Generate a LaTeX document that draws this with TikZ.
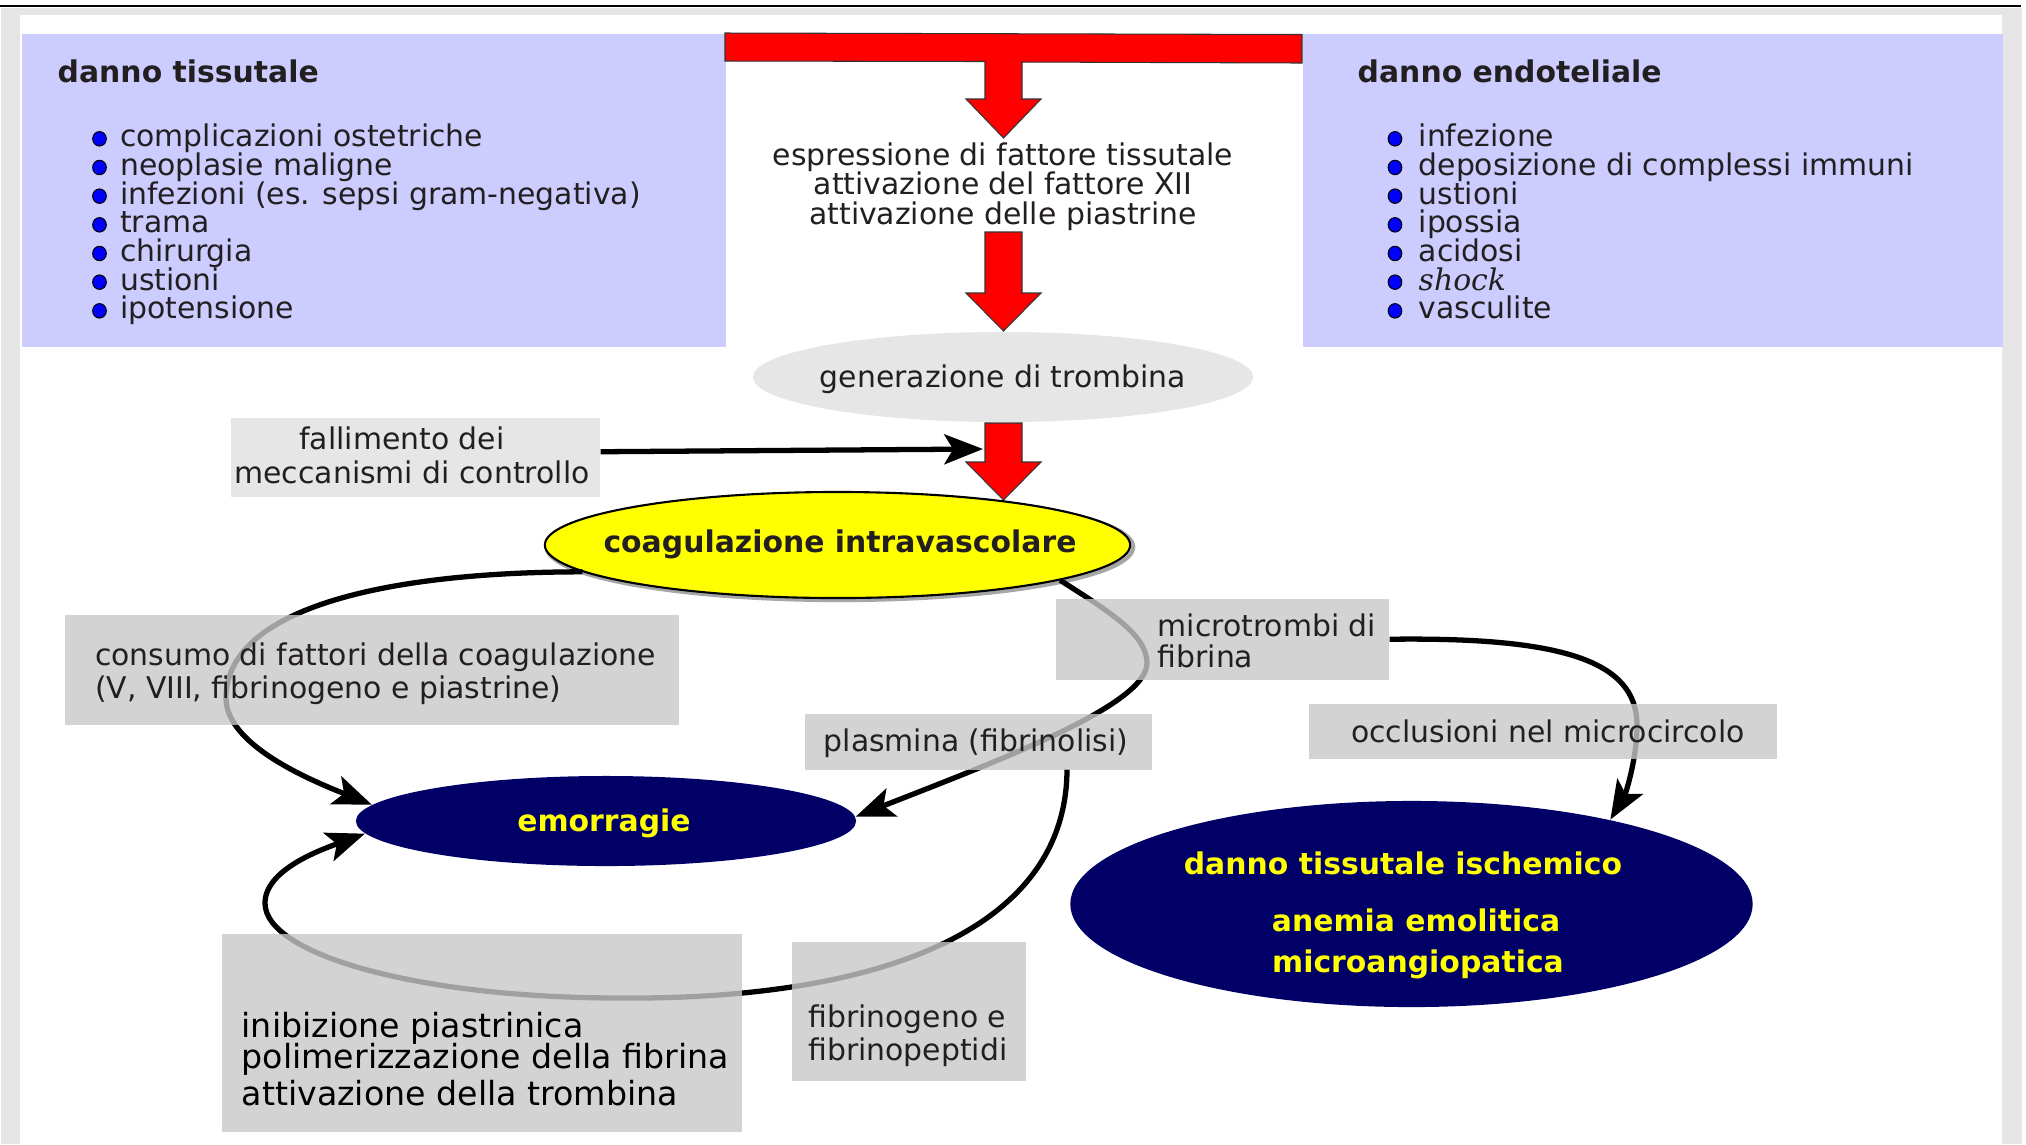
\documentclass[tikz,border=0pt]{standalone}
\usepackage{fontspec}
\setmainfont{DejaVu Sans}
\newfontfamily\serifit{DejaVu Serif}
\usetikzlibrary{shapes.geometric,arrows.meta}
\definecolor{lav}{RGB}{204,204,255}
\definecolor{lgray}{RGB}{230,230,230}
\definecolor{bgray}{RGB}{201,201,201}
\definecolor{navyb}{RGB}{0,0,102}
\definecolor{txtc}{RGB}{35,31,32}
\definecolor{framec}{RGB}{229,229,229}
\definecolor{yel}{RGB}{255,255,0}
\pgfdeclarelayer{fg}
\pgfsetlayers{main,fg}
\begin{document}
\begin{tikzpicture}[x=0.01cm,y=-0.01cm,
  txt/.style={inner sep=0pt, text=txtc, font=\fontsize{8.49pt}{9pt}\selectfont},
  txtb/.style={inner sep=0pt, text=txtc, font=\fontsize{8.49pt}{9pt}\selectfont\bfseries},
  ytxt/.style={inner sep=0pt, text=yel, font=\fontsize{8.49pt}{9pt}\selectfont\bfseries},
  bigtxt/.style={inner sep=0pt, text=black, font=\fontsize{9.45pt}{10pt}\selectfont},
  lbox/.style={fill=bgray, fill opacity=0.8, draw=none, inner sep=0pt, anchor=north west},
  oval/.style={ellipse, inner sep=0pt, draw=none},
  conn/.style={line width=1.5pt, -{Stealth[length=11pt,width=8.5pt,inset=2.5pt]}},
  redarrow/.style={fill=red, draw=black!80, line width=0.3pt, line join=miter},
  bul/.style={fill=blue, draw=black, line width=0.3pt},
]
\useasboundingbox (0,0) rectangle (2026,1144);
% frame
\fill[framec] (1,7.5) rectangle (2022,1144);
\fill[white] (20,15) rectangle (2002,1144);
\draw[line width=0.7pt] (0,6.2) -- (2021,6.2);

% blue boxes
\node[fill=lav, anchor=north west, minimum width=7.04cm, minimum height=3.13cm, inner sep=0pt] (tiss) at (21,33) {};
\node[fill=lav, anchor=north west, minimum width=7.00cm, minimum height=3.13cm, inner sep=0pt] (endo) at (1302,33) {};

% red block arrows
\draw[redarrow] (725,33) -- (1302,34.5) -- (1302,63) -- (1022,62) -- (1022,99) -- (1041,99) -- (1003.5,138)
  -- (966,99) -- (985,99) -- (985,61.5) -- (725,61) -- cycle;
\draw[redarrow] (985,232) -- (1022,232) -- (1022,293) -- (1041,293) -- (1003.5,331) -- (966,293) -- (985,293) -- cycle;
\draw[redarrow] (985,423) -- (1022,423) -- (1022,462) -- (1041,462) -- (1003.5,500) -- (966,462) -- (985,462) -- cycle;

% headings and lists
\node[txtb, anchor=base west] (tissh) at (57,82) {danno tissutale};
\node[txtb, anchor=base west] (endoh) at (1357,82) {danno endoteliale};
\foreach \t [count=\i from 0] in {complicazioni ostetriche, neoplasie maligne, infezioni (es. sepsi gram-negativa), trama, chirurgia, ustioni, ipotensione}{
  \fill[bul] (99.5,138.8+28.67*\i) ellipse [x radius=0.068cm, y radius=0.072cm];
  \node[txt, anchor=base west] (tl\i) at (119.5,146.8+28.67*\i) {\t};
}
\foreach \t [count=\i from 0] in {infezione, deposizione di complessi immuni, ustioni, ipossia, acidosi, {\serifit\itshape shock}, vasculite}{
  \fill[bul] (1395,138.8+28.67*\i) ellipse [x radius=0.068cm, y radius=0.072cm];
  \node[txt, anchor=base west] (el\i) at (1418,146.8+28.67*\i) {\t};
}

% central texts
\node[txt, anchor=base] (c1) at (1003,165) {espressione di fattore tissutale};
\node[txt, anchor=base] (c2) at (1003,194.5) {attivazione del fattore XII};
\node[txt, anchor=base] (c3) at (1003,224) {attivazione delle piastrine};

% ellipses
\node[oval, fill=lgray, minimum width=5.0cm, minimum height=0.90cm] (gen) at (1003,377) {};
\node[txt, anchor=base] (gent) at (1003,387.5) {generazione di trombina};

\draw[gray!70, line width=1.2pt] (840,547) ellipse [x radius=2.93cm, y radius=0.53cm];
\node[oval, fill=yel, draw=black, line width=0.6pt, minimum width=5.85cm, minimum height=1.06cm] (coag) at (837.5,545) {};
\node[txtb, anchor=base] (coagt) at (840,552) {coagulazione intravascolare};

\node[oval, fill=navyb, minimum width=5.0cm, minimum height=0.90cm] (emo) at (606,821) {};
\node[ytxt] (emot) at (604,823.5) {emorragie};

\node[oval, fill=navyb, minimum width=6.82cm, minimum height=2.06cm] (isch) at (1411.5,904) {};
\node[ytxt, anchor=base] (isch1) at (1403,874) {danno tissutale ischemico};
\node[ytxt, anchor=base] (isch2) at (1416,931) {anemia emolitica};
\node[ytxt, anchor=base] (isch3) at (1418,972) {microangiopatica};

% fallimento box and connector
\node[fill=lgray, anchor=north west, inner sep=0pt, minimum width=3.69cm, minimum height=0.79cm] (fall) at (230,417) {};
\node[txt, anchor=base] (fall1) at (402,449) {fallimento dei};
\node[txt, anchor=base] (fall2) at (412,483) {meccanismi di controllo};
\coordinate (shaft3) at (983,449);
\draw[conn] ([yshift=0.055cm]fall.east) -- (shaft3);

% label boxes (semi transparent) on the foreground layer, with their texts
\begin{pgfonlayer}{fg}
\node[lbox, minimum width=6.134cm, minimum height=1.10cm] (cons) at (64.6,614) {};
\node[lbox, minimum width=3.33cm, minimum height=0.81cm] (micro) at (1055,598) {};
\node[lbox, minimum width=3.475cm, minimum height=0.56cm] (plas) at (804,713) {};
\node[lbox, minimum width=4.68cm, minimum height=0.55cm] (occl) at (1308,703) {};
\node[lbox, minimum width=5.20cm, minimum height=1.98cm] (inib) at (221,933) {};
\node[lbox, minimum width=2.34cm, minimum height=1.395cm] (fibr) at (791,941) {};

\node[txt, anchor=base west] (cons1) at (94.3,665.5) {consumo di fattori della coagulazione};
\node[txt, anchor=base west] (cons2) at (94.3,698.5) {(V, VIII, fibrinogeno e piastrine)};
\node[txt, anchor=base west] (micro1) at (1157,636) {microtrombi di};
\node[txt, anchor=base west] (micro2) at (1157,667) {fibrina};
\node[txt] (plast) at (976,743.5) {plasmina (fibrinolisi)};
\node[txt, anchor=base] (occlt) at (1548,742) {occlusioni nel microcircolo};
\node[bigtxt, anchor=base west] (inib1) at (241,1037.5) {inibizione piastrinica};
\node[bigtxt, anchor=base west] (inib2) at (241,1068.5) {polimerizzazione della fibrina};
\node[bigtxt, anchor=base west] (inib3) at (241,1105) {attivazione della trombina};
\node[txt, anchor=base west] (fibr1) at (807.6,1027) {fibrinogeno e};
\node[txt, anchor=base west] (fibr2) at (807.6,1060) {fibrinopeptidi};
\end{pgfonlayer}

% curved connectors (under the label boxes)
\draw[conn] (coag.186) .. controls (380,572) and (226,610) .. (226,698)
  .. controls (226,745) and (310,780) .. (emo.176.5);
\draw[conn] (coag.-9) .. controls (1110,612) and (1147,635) .. (1147,663)
  .. controls (1147,705) and (1000,760) .. (emo.1);
\coordinate (plasout) at (1067,769);
\draw[conn] (plasout) .. controls (1067,930) and (880,1000) .. (620,998)
  .. controls (420,998) and (265,955) .. (265,903)
  .. controls (265,870) and (320,850) .. (emo.183);
\draw[conn] (micro.east) .. controls (1560,637) and (1637,660) .. (1637,725)
  .. controls (1637,760) and (1625,795) .. (isch.23);
\end{tikzpicture}
\end{document}
